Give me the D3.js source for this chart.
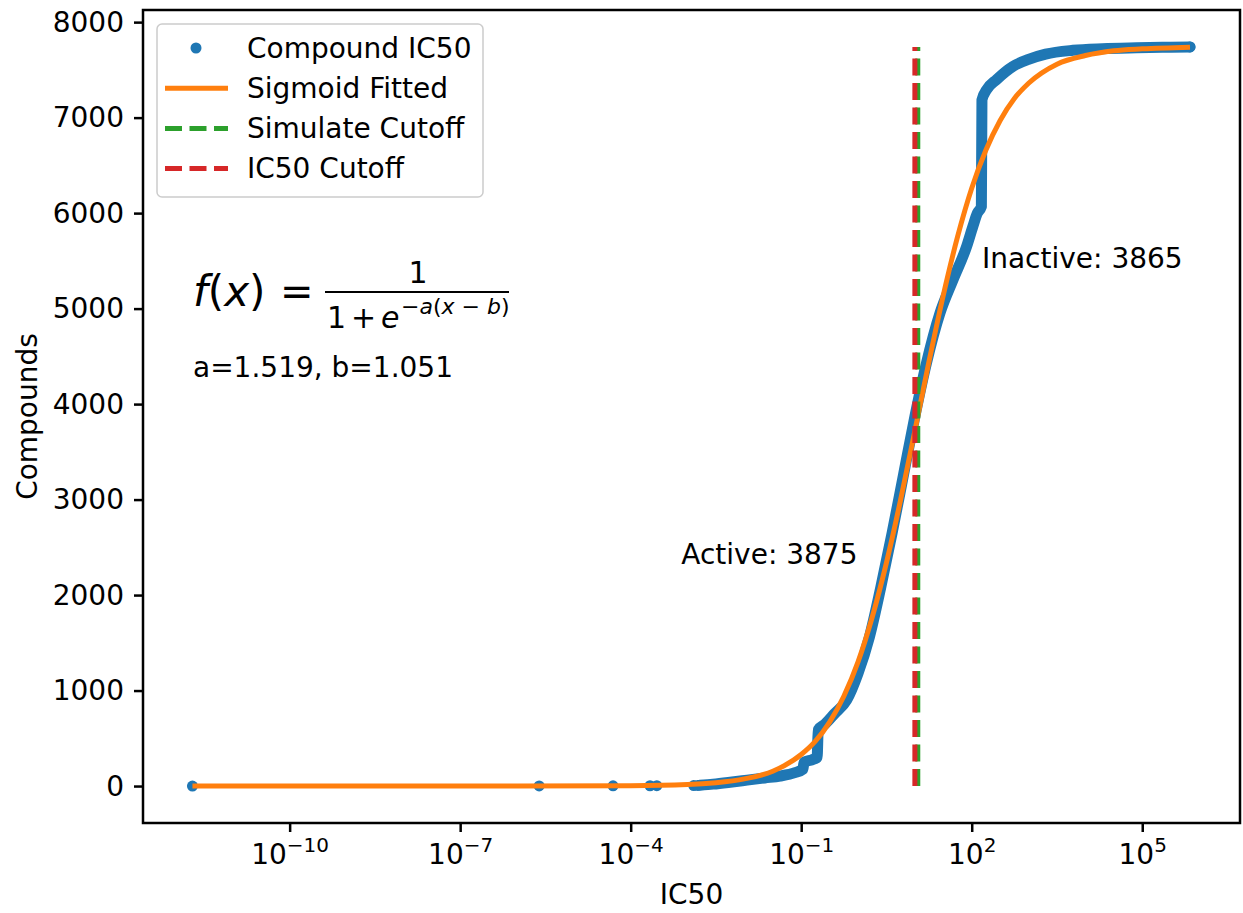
<!DOCTYPE html>
<html>
<head>
<meta charset="utf-8">
<script src="https://cdnjs.cloudflare.com/ajax/libs/d3/7.8.5/d3.min.js"></script>
<style>
  body { margin: 0; background: #fff; }
  text { font-family: "DejaVu Sans", sans-serif; fill: #000; }
</style>
</head>
<body>
<div id="chart"></div>
<script>
// values (x as log10 of IC50)
var blueLoneLog = [-11.71, -5.61, -4.31, -3.66, -3.54, -2.89, -2.82];
var blueLoneCount = [0, 1, 2, 3, 4, 5, 6];

var blueBandLog = [-2.78, -2.55, -2.25, -1.95, -1.64, -1.37, -1.11, -0.97, -0.95, -0.81, -0.72, -0.70,
  -0.58, -0.41, -0.2, 0.0, 0.2, 0.4, 0.6, 0.8, 1.0, 1.2, 1.44, 1.67, 1.91, 2.02, 2.1, 2.17, 2.18,
  2.26, 2.44, 2.72, 3.0, 3.3, 3.78, 4.3, 4.9, 5.5, 5.84];
var blueBandCount = [8, 20, 40, 62, 85, 105, 140, 175, 250, 275, 300, 590,
  650, 760, 900, 1180, 1560, 2080, 2650, 3260, 3870, 4420, 4950, 5300, 5650, 5860, 6000, 6067, 7186,
  7290, 7400, 7535, 7610, 7665, 7705, 7722, 7731, 7737, 7740];

var fitLog = [-11.71, -6, -4, -3, -2.5, -2, -1.5, -1, -0.75, -0.5, -0.25, 0, 0.25, 0.5, 0.75, 1.0,
  1.25, 1.5, 1.75, 2.0, 2.25, 2.5, 2.75, 3.0, 3.5, 4.0, 4.5, 5.0, 5.84];
var fitCount = [0, 0, 3, 15, 35, 75, 155, 330, 470, 670, 940, 1300, 1770, 2340, 3000, 3720,
  4450, 5140, 5750, 6260, 6660, 6970, 7200, 7360, 7560, 7650, 7700, 7720, 7738];

var ic50CutoffLog = 1.0;
var simulateCutoffLog = 1.051;
var totalCompounds = 7740;

var yTicks = [0, 1000, 2000, 3000, 4000, 5000, 6000, 7000, 8000];
var xTickExp = [-10, -7, -4, -1, 2, 5];

var W = 1243, H = 913;
var margin = { left: 143, right: 3, top: 10, bottom: 90 };
var blue = "#1f77b4", orange = "#ff7f0e", green = "#2ca02c", red = "#d62728";
var fs = "28px";

var svg = d3.select("#chart").append("svg")
  .attr("width", W).attr("height", H);

var x = d3.scaleLog()
  .domain([Math.pow(10, -12.58), Math.pow(10, 6.72)])
  .range([margin.left, W - margin.right]);
var y = d3.scaleLinear()
  .domain([-387, 8127])
  .range([H - margin.bottom, margin.top]);

function pts(logs, counts) {
  return logs.map(function (t, i) { return [Math.pow(10, t), counts[i]]; });
}

var line = d3.line()
  .x(function (d) { return x(d[0]); })
  .y(function (d) { return y(d[1]); })
  .curve(d3.curveMonotoneX);

// clip to axes
svg.append("clipPath").attr("id", "clip").append("rect")
  .attr("x", margin.left).attr("y", margin.top)
  .attr("width", W - margin.left - margin.right)
  .attr("height", H - margin.top - margin.bottom);

var plot = svg.append("g").attr("clip-path", "url(#clip)");

// compound scatter: dense part drawn as a thick band of markers
var band = pts(blueBandLog, blueBandCount);
plot.append("path")
  .datum(band)
  .attr("d", line)
  .attr("fill", "none")
  .attr("stroke", blue)
  .attr("stroke-width", 11)
  .attr("stroke-linejoin", "round")
  .attr("stroke-linecap", "round");

plot.selectAll(".dot")
  .data(pts(blueLoneLog, blueLoneCount).concat([band[band.length - 1]]))
  .enter().append("circle")
  .attr("class", "dot")
  .attr("cx", function (d) { return x(d[0]); })
  .attr("cy", function (d) { return y(d[1]); })
  .attr("r", 5.5)
  .attr("fill", blue);

// sigmoid fit
plot.append("path")
  .datum(pts(fitLog, fitCount))
  .attr("d", line)
  .attr("fill", "none")
  .attr("stroke", orange)
  .attr("stroke-width", 5);

// cutoff lines (green below, red on top)
[[simulateCutoffLog, green], [ic50CutoffLog, red]].forEach(function (c) {
  var xv = Math.pow(10, c[0]);
  plot.append("line")
    .attr("x1", x(xv)).attr("x2", x(xv))
    .attr("y1", y(0)).attr("y2", y(totalCompounds))
    .attr("stroke", c[1])
    .attr("stroke-width", 5)
    .attr("stroke-dasharray", "17,7.5");
});

// axes
var yAxis = svg.append("g")
  .attr("transform", "translate(" + margin.left + ",0)")
  .call(d3.axisLeft(y).tickValues(yTicks).tickSize(9).tickPadding(10).tickFormat(d3.format("d")));
var xAxis = svg.append("g")
  .attr("transform", "translate(0," + (H - margin.bottom) + ")")
  .call(d3.axisBottom(x).tickValues(xTickExp.map(function (e) { return Math.pow(10, e); }))
    .tickSize(9).tickFormat(""));

[xAxis, yAxis].forEach(function (a) {
  a.select(".domain").remove();
  a.selectAll(".tick line").attr("stroke", "#000").attr("stroke-width", 2.5);
  a.selectAll("text").style("font-size", fs).attr("fill", "#000");
});

// x tick labels as 10 with superscript
xAxis.selectAll(".tick").each(function (d) {
  var e = Math.round(Math.log10(d));
  var t = d3.select(this).append("text")
    .attr("y", 41)
    .attr("text-anchor", "middle")
    .style("font-size", fs);
  t.append("tspan").text("10");
  t.append("tspan").attr("dy", -12).style("font-size", "20px")
    .text(String(e).replace("-", "\u2212"));
});

// frame
svg.append("rect")
  .attr("x", margin.left).attr("y", margin.top)
  .attr("width", W - margin.left - margin.right)
  .attr("height", H - margin.top - margin.bottom)
  .attr("fill", "none")
  .attr("stroke", "#000")
  .attr("stroke-width", 2.5);

// axis labels
svg.append("text")
  .attr("x", (margin.left + W - margin.right) / 2).attr("y", 904)
  .attr("text-anchor", "middle").style("font-size", fs)
  .text("IC50");
svg.append("text")
  .attr("transform", "translate(27," + ((margin.top + H - margin.bottom) / 2) + ") rotate(-90)")
  .attr("text-anchor", "middle").attr("dy", "0.35em").style("font-size", fs)
  .text("Compounds");

// annotations
svg.append("text")
  .attr("x", x(Math.pow(10, -3.11))).attr("y", y(2322))
  .style("font-size", fs).text("Active: 3875");
svg.append("text")
  .attr("x", x(Math.pow(10, 2.18))).attr("y", y(5429))
  .style("font-size", fs).text("Inactive: 3865");

// formula
var f = svg.append("text").attr("x", 193).attr("y", 306).style("font-size", "42px");
f.append("tspan").style("font-style", "italic").text("f");
f.append("tspan").text("(");
f.append("tspan").style("font-style", "italic").text("x");
f.append("tspan").text(")");
svg.append("text").attr("x", 280).attr("y", 305).style("font-size", "40px").text("=");
svg.append("line")
  .attr("x1", 325).attr("x2", 509).attr("y1", 292).attr("y2", 292)
  .attr("stroke", "#000").attr("stroke-width", 2.2);
svg.append("text").attr("x", 418).attr("y", 283).attr("text-anchor", "middle")
  .style("font-size", "30px").text("1");
svg.append("text").attr("x", 327).attr("y", 328).style("font-size", "30px").text("1");
svg.append("text").attr("x", 351).attr("y", 328).style("font-size", "30px").text("+");
svg.append("text").attr("x", 381).attr("y", 328).style("font-size", "30px")
  .style("font-style", "italic").text("e");
var ex = svg.append("text").attr("x", 401).attr("y", 314).style("font-size", "22px");
ex.append("tspan").text("\u2212");
ex.append("tspan").style("font-style", "italic").text("a");
ex.append("tspan").text("(");
ex.append("tspan").style("font-style", "italic").text("x");
ex.append("tspan").text(" \u2212 ");
ex.append("tspan").style("font-style", "italic").text("b");
ex.append("tspan").text(")");

svg.append("text").attr("x", 193).attr("y", 377).style("font-size", fs)
  .text("a=1.519, b=1.051");

// legend
var lg = svg.append("g");
lg.append("rect")
  .attr("x", 157).attr("y", 24).attr("width", 326).attr("height", 173)
  .attr("rx", 5)
  .attr("fill", "#fff").attr("fill-opacity", 0.8)
  .attr("stroke", "#cccccc").attr("stroke-width", 1.5);
var items = [
  { label: "Compound IC50", type: "dot", color: blue },
  { label: "Sigmoid Fitted", type: "line", color: orange },
  { label: "Simulate Cutoff", type: "dash", color: green },
  { label: "IC50 Cutoff", type: "dash", color: red }
];
items.forEach(function (it, i) {
  var cy = 48 + i * 40.2;
  if (it.type === "dot") {
    lg.append("circle").attr("cx", 196).attr("cy", cy).attr("r", 5.5).attr("fill", it.color);
  } else {
    lg.append("line")
      .attr("x1", 165).attr("x2", 228).attr("y1", cy).attr("y2", cy)
      .attr("stroke", it.color).attr("stroke-width", 5)
      .attr("stroke-dasharray", it.type === "dash" ? "17,7.5" : null);
  }
  lg.append("text").attr("x", 247).attr("y", cy).attr("dy", "0.35em")
    .style("font-size", fs).text(it.label);
});
</script>
</body>
</html>
